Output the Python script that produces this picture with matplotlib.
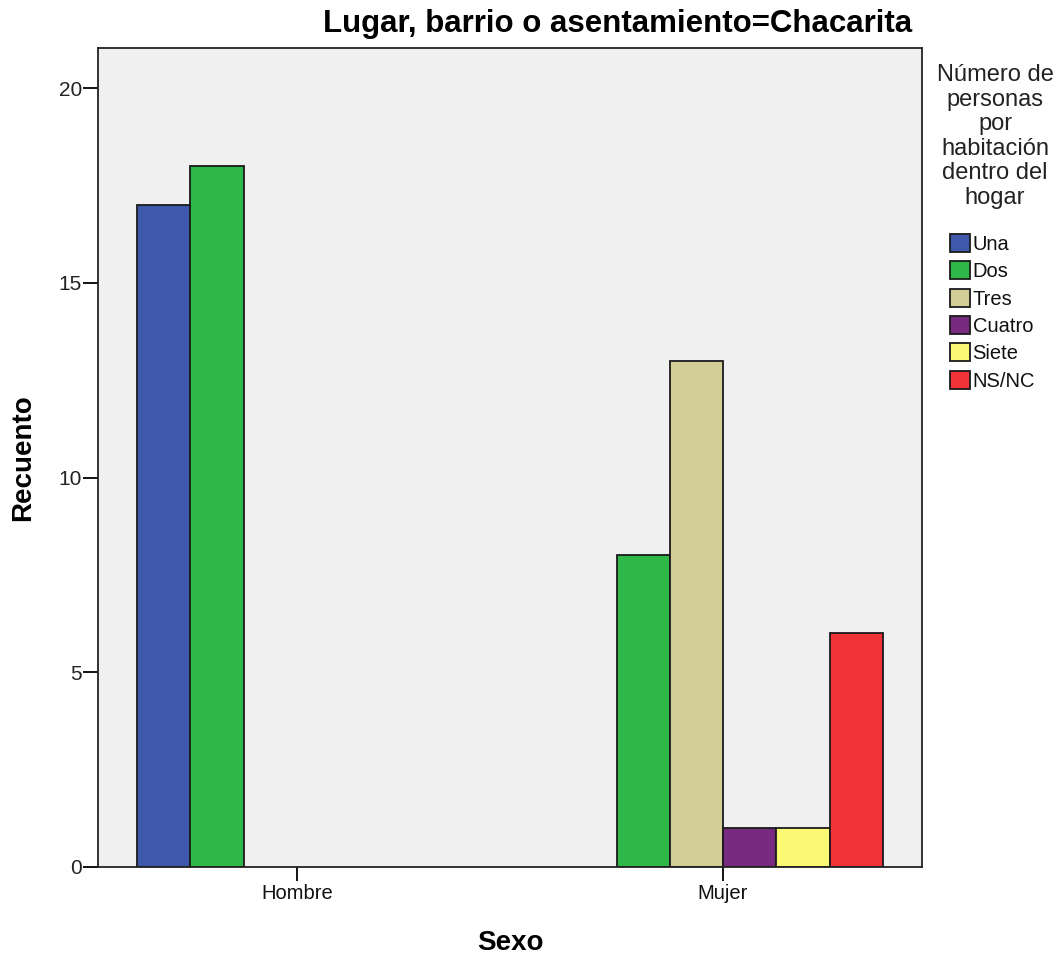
import matplotlib
matplotlib.use("Agg")
import matplotlib.pyplot as plt
from matplotlib.patches import Patch
import numpy as np

plt.rcParams['font.family'] = ['Liberation Sans', 'DejaVu Sans']

categories = ["Hombre", "Mujer"]
series = ["Una", "Dos", "Tres", "Cuatro", "Siete", "NS/NC"]
values = {
    "Una":    [17, 0],
    "Dos":    [18, 8],
    "Tres":   [0, 13],
    "Cuatro": [0, 1],
    "Siete":  [0, 1],
    "NS/NC":  [0, 6],
}
colors = ["#3E58AC", "#2EB848", "#D3CE97", "#782A7F", "#FBF873", "#EF3338"]
yticks = [0, 5, 10, 15, 20]

fig = plt.figure(figsize=(10.63, 9.57), dpi=100)
ax = fig.add_axes([98/1063, 1-867/957, (922-98)/1063, (867-48)/957])
ax.set_facecolor("#F0F0F0")

w = 0.125
x = np.arange(len(categories))
n = len(series)
for i, (s, c) in enumerate(zip(series, colors)):
    offs = (i - (n-1)/2) * w
    vals = np.array(values[s], dtype=float)
    mask = vals > 0
    ax.bar(x[mask] + offs, vals[mask], width=w, color=c, edgecolor="#1a1a1a", linewidth=1.3)

ax.set_xlim(-0.467, 1.467)
ax.set_ylim(0, 21.03)
ax.set_xticks(x)
ax.set_xticklabels(categories, fontsize=14.5, color="#111111")
ax.set_yticks(yticks)
ax.set_yticklabels([str(t) for t in yticks], fontsize=15, color="#222222")
ax.tick_params(axis='x', length=10, width=1.3, pad=2)
ax.tick_params(axis='y', length=10.5, width=1.3, pad=1)
for sp in ax.spines.values():
    sp.set_linewidth(1.3)
    sp.set_color("#222222")

ax.set_ylabel("Recuento", fontsize=20, fontweight='bold')
ax.yaxis.set_label_coords(-0.075, 0.5)
ax.set_xlabel("Sexo", fontsize=20, fontweight='bold')
ax.xaxis.set_label_coords(0.5, -0.077)

fig.text(912/1063, 1-32/957, "Lugar, barrio o asentamiento=Chacarita", fontsize=22.5,
         fontweight='bold', ha='right', va='baseline')

fig.text(995/1063, 1-64/957, "Número de\npersonas\npor\nhabitación\ndentro del\nhogar",
         fontsize=17, ha='center', va='top', linespacing=1.15, color="#222222")

handles = [Patch(facecolor=c, edgecolor="#1a1a1a", linewidth=1.3) for c in colors]
leg = fig.legend(handles, series, loc='upper left', bbox_to_anchor=(950/1063, 1-234/957),
                 frameon=False, fontsize=14.5, handlelength=1.0, handleheight=1.0,
                 handletextpad=0.12, labelspacing=0.37, borderpad=0, borderaxespad=0)
for t in leg.get_texts():
    t.set_color("#111111")

fig.savefig("out.png", dpi=100, facecolor="white")
